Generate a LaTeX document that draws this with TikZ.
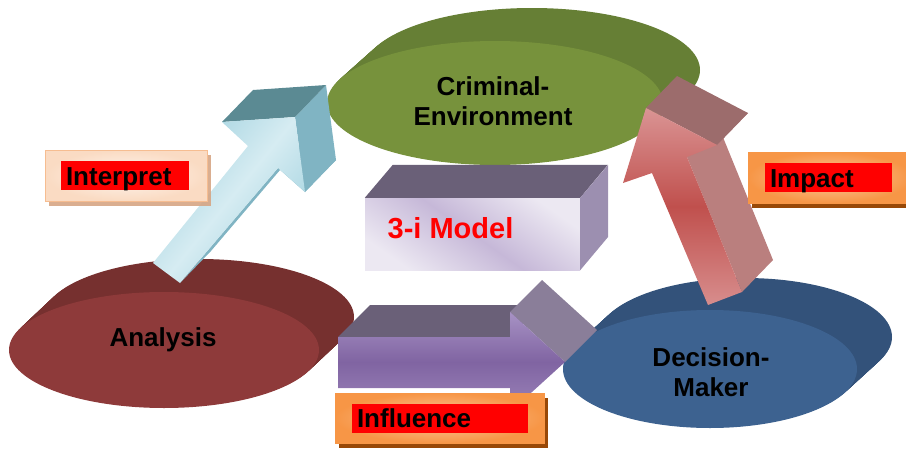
\documentclass[tikz,border=0pt]{standalone}
\usepackage{fontspec}
\setmainfont{Liberation Sans}
\usetikzlibrary{calc,shadows}

% disc colours
\definecolor{anaFront}{HTML}{8E3A3A}
\definecolor{anaSide}{HTML}{76302F}
\definecolor{envFront}{HTML}{77923C}
\definecolor{envSide}{HTML}{667F35}
\definecolor{decFront}{HTML}{3D6290}
\definecolor{decSide}{HTML}{33527A}
% arrow colours
\definecolor{cyanLight}{HTML}{D6ECF2}
\definecolor{cyanFace}{HTML}{A2D2DF}
\definecolor{cyanTop}{HTML}{5B8A93}
\definecolor{cyanSide}{HTML}{80B4C3}
\definecolor{redLight}{HTML}{DA9494}
\definecolor{redMid}{HTML}{C0504D}
\definecolor{redTop}{HTML}{9C6C6C}
\definecolor{redSide}{HTML}{BA7F7E}
\definecolor{purLight}{HTML}{A792C4}
\definecolor{purMid}{HTML}{8064A2}
\definecolor{purTop}{HTML}{6A6078}
\definecolor{purHead}{HTML}{8A7E99}
% model box and labels
\definecolor{boxSide}{HTML}{9C8FB0}
\definecolor{boxLight}{HTML}{ECE8F2}
\definecolor{boxMid}{HTML}{C6B8D8}
\definecolor{peachEdge}{HTML}{F6BD91}
\definecolor{peachIn}{HTML}{FEF6F0}
\definecolor{peachShadow}{HTML}{D6A584}
\definecolor{orangeEdge}{HTML}{F79646}
\definecolor{orangeIn}{HTML}{FBC9A0}
\definecolor{orangeShadow}{HTML}{984807}

\begin{document}
\begin{tikzpicture}[x=1pt,y=-1pt,
    disclabel/.style={align=center,font=\fontsize{26pt}{30pt}\selectfont\bfseries},
    redlabel/.style={fill=red,inner xsep=5pt,inner ysep=0pt,minimum height=29pt,
        text height=19pt,text depth=0pt,align=left,
        font=\fontsize{26pt}{30pt}\selectfont\bfseries},
    peachbox/.style={draw=peachEdge,line width=1pt,inner color=peachIn,outer color=peachEdge!55!white,
        minimum height=51pt,drop shadow={fill=peachShadow,opacity=0.9,shadow xshift=4pt,shadow yshift=-5pt}},
    orangebox/.style={draw=orangeEdge,line width=1pt,inner color=orangeIn,outer color=orangeEdge,
        minimum height=51pt,drop shadow={fill=orangeShadow,opacity=1,shadow xshift=4pt,shadow yshift=-5pt}},
    modelbox/.style={minimum width=215pt,minimum height=72pt,inner sep=0pt,
        top color=boxLight,bottom color=boxLight,middle color=boxMid,shading angle=-35}]

\useasboundingbox (0,0) rectangle (906,450);

% discs: rim first, then the front face
\foreach \cx/\cy/\rx/\ry/\dx/\dy/\fc/\sc in {164/350/155/58/35/33/anaFront/anaSide,
        495/103/168/62/37/33/envFront/envSide, 710/369/147/59/35/32/decFront/decSide}{
    \foreach \t in {1,0.96,...,0.04}
        \fill[\sc] (\cx+\t*\dx,\cy-\t*\dy) ellipse ({\rx} and {\ry});
    \fill[\fc] (\cx,\cy) ellipse ({\rx} and {\ry});
}
\node[disclabel] (analysis) at (163,340) {Analysis};
\node[disclabel] (crime) at (493,101.5) {Criminal-\\Environment};
\node[disclabel] (decision) at (711,372) {Decision-\\Maker};

% 3-i model block
\node[modelbox] (model) at (472.5,234) {};
\fill[purTop] (model.north west) -- ++(28,-33) -- ++(215,0) -- (model.north east) -- cycle;
\fill[boxSide] (model.north east) -- ++(28,-33) -- ++(0,72) -- (model.south east) -- cycle;
\node[font=\fontsize{29pt}{32pt}\selectfont\bfseries,text=red] (modeltitle)
    at ([xshift=-22pt,yshift=6pt]model.center) {3-i Model};

% interpret arrow
\coordinate (dc) at (31,-32);
\coordinate (c1) at (153,263);
\coordinate (c2) at (248,146);
\coordinate (c3) at (222,122);
\coordinate (c4) at (295,117);
\coordinate (c5) at (305,192);
\coordinate (c6) at (278,168);
\coordinate (c7) at (180,283);
\foreach \a/\b in {c4/c5,c5/c6,c6/c7}
    \fill[cyanSide] (\a) -- (\b) -- ($(\b)+(dc)$) -- ($(\a)+(dc)$) -- cycle;
\fill[cyanTop] (c3) -- (c4) -- ($(c4)+(dc)$) -- ($(c3)+(dc)$) -- cycle;
\shade[left color=cyanFace,right color=cyanFace,middle color=cyanLight,shading angle=51]
    (c1) -- (c2) -- (c3) -- (c4) -- (c5) -- (c6) -- (c7) -- cycle;

% impact arrow
\coordinate (dr) at (31,-32);
\coordinate (r1) at (708,305);
\coordinate (r2) at (652,173);
\coordinate (r3) at (623,183);
\coordinate (r4) at (646,108);
\coordinate (r5) at (717,145);
\coordinate (r6) at (687,157);
\coordinate (r7) at (742,292);
\foreach \a/\b in {r5/r6,r6/r7}
    \fill[redSide] (\a) -- (\b) -- ($(\b)+(dr)$) -- ($(\a)+(dr)$) -- cycle;
\fill[redTop] (r4) -- (r5) -- ($(r5)+(dr)$) -- ($(r4)+(dr)$) -- cycle;
\shade[top color=redLight,bottom color=redLight!90!redMid,middle color=redMid]
    (r1) -- (r2) -- (r3) -- (r4) -- (r5) -- (r6) -- (r7) -- cycle;

% influence arrow
\coordinate (dp) at (32,-32);
\coordinate (p1) at (338,337);
\coordinate (p2) at (510,337);
\coordinate (p3) at (510,312);
\coordinate (p4) at (565,362);
\coordinate (p5) at (510,412);
\coordinate (p6) at (510,388);
\coordinate (p7) at (338,388);
\fill[purTop] (p1) -- (p2) -- ($(p2)+(dp)$) -- ($(p1)+(dp)$) -- cycle;
\fill[purHead] (p3) -- (p4) -- ($(p4)+(dp)$) -- ($(p3)+(dp)$) -- cycle;
\shade[top color=purLight,bottom color=purLight!70!purMid,middle color=purMid]
    (p1) -- (p2) -- (p3) -- (p4) -- (p5) -- (p6) -- (p7) -- cycle;

% labels
\node[peachbox,minimum width=162pt] (interpretbox) at (126,175.5) {};
\node[redlabel,text width=118pt] (interpret) at (125,175.5) {Interpret};
\node[orangebox,minimum width=164pt] (impactbox) at (830,177.5) {};
\node[redlabel,text width=117pt] (impact) at (828.5,177.5) {Impact};
\node[orangebox,minimum width=209pt,minimum height=50pt] (influencebox) at (439.5,418) {};
\node[redlabel,text width=166pt] (influence) at (440,418) {Influence};
\end{tikzpicture}
\end{document}
